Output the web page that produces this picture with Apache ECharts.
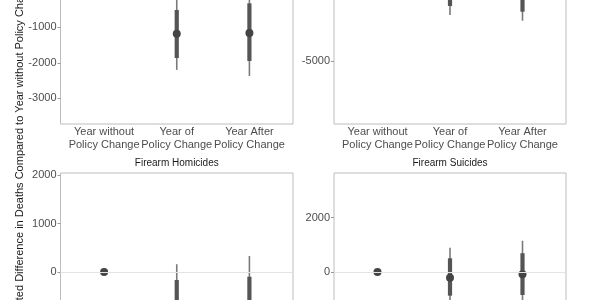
<!DOCTYPE html>
<html>
<head>
<meta charset="utf-8">
<script src="https://cdn.jsdelivr.net/npm/echarts@6/dist/echarts.min.js"></script>
<style>html,body{margin:0;padding:0;background:#fff}#c{width:600px;height:300px}</style>
</head>
<body>
<div id="c"></div>
<script>
// ---- data ----
const categories = ['Year without\nPolicy Change', 'Year of\nPolicy Change', 'Year After\nPolicy Change'];
const yTitle = 'Expected Difference in Deaths Compared to Year without Policy Change';
const stripTitles = ['', '', 'Firearm Homicides', 'Firearm Suicides'];

// panel 1 (top-left)
const p1Est     = [0, -1180, -1160];
const p1InnerLo = [0, -1865, -1950];
const p1InnerHi = [0, -513, -325];
const p1OuterLo = [0, -2200, -2370];
const p1OuterHi = [0, -160, 50];
const p1Ticks   = [-3000, -2000, -1000, 0];

// panel 2 (top-right)
const p2Est     = [0, -1016, -1330];
const p2InnerLo = [0, -1978, -2291];
const p2InnerHi = [0, -54, -369];
const p2OuterLo = [0, -2473, -2786];
const p2OuterHi = [0, 441, 126];
const p2Ticks   = [-5000, 0];

// panel 3 (Firearm Homicides)
const p3Est     = [0, -796, -926];
const p3InnerLo = [0, -1427, -1755];
const p3InnerHi = [0, -165, -97];
const p3OuterLo = [0, -1752, -2182];
const p3OuterHi = [0, 160, 330];
const p3Ticks   = [-2000, -1000, 0, 1000, 2000];

// panel 4 (Firearm Suicides)
const p4Est     = [0, -210, -85];
const p4InnerLo = [0, -870, -845];
const p4InnerHi = [0, 505, 690];
const p4OuterLo = [0, -1315, -1320];
const p4OuterHi = [0, 895, 1150];
const p4Ticks   = [-4000, -2000, 0, 2000];

const panels = [
  {est:p1Est, ilo:p1InnerLo, ihi:p1InnerHi, olo:p1OuterLo, ohi:p1OuterHi, ticks:p1Ticks, min:-3724, max:896},
  {est:p2Est, ilo:p2InnerLo, ihi:p2InnerHi, olo:p2OuterLo, ohi:p2OuterHi, ticks:p2Ticks, min:-8462, max:1648},
  {est:p3Est, ilo:p3InnerLo, ihi:p3InnerHi, olo:p3OuterLo, ohi:p3OuterHi, ticks:p3Ticks, min:-2639, max:2041},
  {est:p4Est, ilo:p4InnerLo, ihi:p4InnerHi, olo:p4OuterLo, ohi:p4OuterHi, ticks:p4Ticks, min:-4706, max:3640}
];

// ---- layout ----
const grids = [
  {left:60.5, top:-40, width:232.5, height:164},
  {left:334, top:-60, width:232, height:184},
  {left:60.5, top:173, width:232.5, height:227},
  {left:334, top:173, width:232, height:227}
];
const FONT = "'Liberation Sans', Arial, Helvetica, sans-serif";

const chart = echarts.init(document.getElementById('c'), null, {renderer:'canvas'});

function renderItem(params, api) {
  const x = api.value(0);
  const est = api.coord([x, api.value(1)]);
  const olo = api.coord([x, api.value(4)]);
  const ohi = api.coord([x, api.value(5)]);
  const ilo = api.coord([x, api.value(2)]);
  const ihi = api.coord([x, api.value(3)]);
  const children = [];
  if (Math.abs(olo[1] - ohi[1]) > 0.01) {
    children.push({type:'line', shape:{x1:olo[0], y1:olo[1], x2:ohi[0], y2:ohi[1]},
      style:{stroke:'#7a7a7a', lineWidth:1.6}});
  }
  if (Math.abs(ilo[1] - ihi[1]) > 0.01) {
    children.push({type:'line', shape:{x1:ilo[0], y1:ilo[1], x2:ihi[0], y2:ihi[1]},
      style:{stroke:'#555555', lineWidth:4.2}});
  }
  children.push({type:'circle', shape:{cx:est[0], cy:est[1], r:4}, style:{fill:'#444444'}});
  return {type:'group', children};
}

const xAxes = [], yAxes = [], series = [];
panels.forEach((p, i) => {
  xAxes.push({
    type:'value', gridIndex:i, min:0.4, max:3.6,
    axisLine:{show:false}, axisTick:{show:false}, splitLine:{show:false},
    axisLabel:{customValues:[1,2,3], formatter:(v)=>categories[Math.round(v)-1],
      color:'#4d4d4d', fontSize:11, fontFamily:FONT, lineHeight:12.4, margin:2}
  });
  yAxes.push({
    type:'value', gridIndex:i, min:p.min, max:p.max,
    axisLine:{show:false}, splitLine:{show:false},
    axisTick:{show:true, length:3, customValues:p.ticks, lineStyle:{color:'#999', width:1}},
    axisLabel:{customValues:p.ticks, formatter:(v)=>String(v), color:'#4d4d4d', fontSize:11, fontFamily:FONT, margin:4}
  });
  series.push({
    type:'line', xAxisIndex:i, yAxisIndex:i, data:[], z:1, silent:true,
    markLine:{silent:true, symbol:['none','none'], label:{show:false},
      lineStyle:{color:'#e3e3e3', width:1, type:'solid'}, data:[{yAxis:0}], animation:false}
  });
  series.push({
    type:'custom', xAxisIndex:i, yAxisIndex:i, z:3, renderItem,
    data: p.est.map((e, k) => [k+1, e, p.ilo[k], p.ihi[k], p.olo[k], p.ohi[k]])
  });
});

// measure prefix width of y title to place it
const cv = document.createElement('canvas').getContext('2d');
cv.font = "11px 'Liberation Sans'";
const prefix = 'Expected Difference in Deaths Comp';
const prefixW = cv.measureText(prefix).width;

const graphic = [];
stripTitles.forEach((t, i) => {
  if (!t) return;
  const g = grids[i];
  graphic.push({type:'text', x:g.left + g.width/2, y:163.5,
    style:{text:t, fontSize:10, fontFamily:FONT, fill:'#1a1a1a', align:'center', verticalAlign:'middle'}});
});
graphic.push({type:'text', x:19.5, y:150 + prefixW, rotation:Math.PI/2,
  style:{text:yTitle, fontSize:11, fontFamily:FONT, fill:'#1a1a1a', align:'left', verticalAlign:'middle'}});

chart.setOption({
  animation:false,
  backgroundColor:'#ffffff',
  grid: grids.map(g => Object.assign({show:true, borderColor:'#bdbdbd', borderWidth:1, backgroundColor:'transparent', containLabel:false, outerBoundsMode:'none'}, g)),
  xAxis:xAxes, yAxis:yAxes, series, graphic
});
</script>
</body>
</html>
